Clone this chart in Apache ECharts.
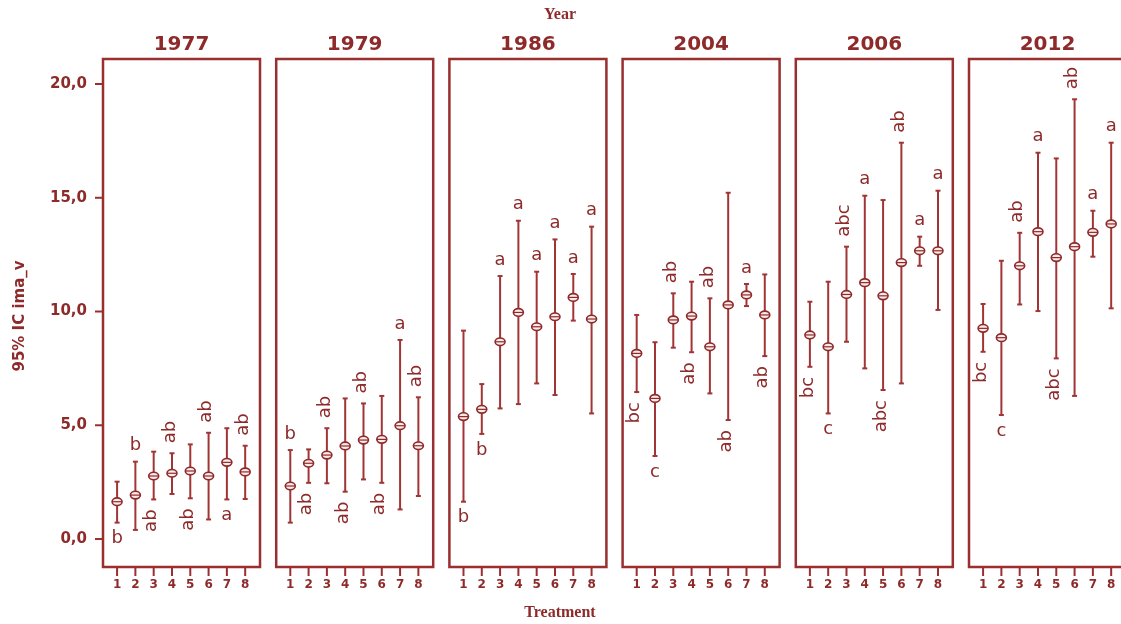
<!DOCTYPE html>
<html>
<head>
<meta charset="utf-8">
<script src="https://cdn.jsdelivr.net/npm/echarts@6/dist/echarts.min.js"></script>
<style>
  html, body { margin: 0; padding: 0; background: #ffffff; }
  #chart { width: 1121px; height: 624px; }
</style>
</head>
<body>
<div id="chart"></div>
<script>
// Years shown as panels, treatments on each panel's x axis
const years = ['1977', '1979', '1986', '2004', '2006', '2012'];
const treatments = [1, 2, 3, 4, 5, 6, 7, 8];
const yTicks = [0, 5, 10, 15, 20];
const yTickLabels = ['0,0', '5,0', '10,0', '15,0', '20,0'];

// Mean of ima_v with its 95% confidence interval, one set per year
const mean1977  = [1.64, 1.93, 2.77, 2.89, 2.99, 2.77, 3.37, 2.95];
const lower1977 = [0.72, 0.40, 1.74, 1.98, 1.79, 0.86, 1.74, 1.76];
const upper1977 = [2.52, 3.40, 3.84, 3.77, 4.16, 4.67, 4.87, 4.10];
const letters1977 = ['b', 'b', 'ab', 'ab', 'ab', 'ab', 'a', 'ab'];
const sides1977 = ['below', 'above', 'below', 'above', 'below', 'above', 'below', 'above'];

const mean1979  = [2.33, 3.33, 3.69, 4.09, 4.35, 4.38, 4.98, 4.10];
const lower1979 = [0.72, 2.47, 2.45, 2.08, 2.62, 2.47, 1.30, 1.89];
const upper1979 = [3.91, 3.94, 4.87, 6.18, 5.96, 6.29, 8.75, 6.23];
const letters1979 = ['b', 'ab', 'ab', 'ab', 'ab', 'ab', 'a', 'ab'];
const sides1979 = ['above', 'below', 'above', 'below', 'above', 'below', 'above', 'above'];

const mean1986  = [5.38, 5.70, 8.67, 9.96, 9.33, 9.77, 10.62, 9.67];
const lower1986 = [1.64, 4.62, 5.74, 5.93, 6.84, 6.33, 9.60, 5.52];
const upper1986 = [9.16, 6.81, 11.56, 13.99, 11.75, 13.17, 11.65, 13.73];
const letters1986 = ['b', 'b', 'a', 'a', 'a', 'a', 'a', 'a'];
const sides1986 = ['below', 'below', 'above', 'above', 'above', 'above', 'above', 'above'];

const mean2004  = [8.16, 6.18, 9.63, 9.80, 8.45, 10.29, 10.73, 9.85];
const lower2004 = [6.46, 3.65, 8.41, 8.21, 6.40, 5.23, 10.24, 8.04];
const upper2004 = [9.85, 8.65, 10.80, 11.31, 10.58, 15.22, 11.21, 11.63];
const letters2004 = ['bc', 'c', 'ab', 'ab', 'ab', 'ab', 'a', 'ab'];
const sides2004 = ['below', 'below', 'above', 'below', 'above', 'below', 'above', 'below'];

const mean2006  = [8.97, 8.45, 10.75, 11.27, 10.69, 12.15, 12.67, 12.67];
const lower2006 = [7.57, 5.52, 8.67, 7.50, 6.55, 6.84, 12.01, 10.07];
const upper2006 = [10.43, 11.31, 12.85, 15.09, 14.90, 17.42, 13.29, 15.31];
const letters2006 = ['bc', 'c', 'abc', 'a', 'abc', 'ab', 'a', 'a'];
const sides2006 = ['below', 'below', 'above', 'above', 'below', 'above', 'above', 'above'];

const mean2012  = [9.26, 8.85, 12.01, 13.51, 12.37, 12.85, 13.48, 13.85];
const lower2012 = [8.23, 5.45, 10.31, 10.02, 7.94, 6.29, 12.41, 10.14];
const upper2012 = [10.33, 12.23, 13.46, 16.98, 16.73, 19.33, 14.43, 17.42];
const letters2012 = ['bc', 'c', 'ab', 'a', 'abc', 'ab', 'a', 'a'];
const sides2012 = ['below', 'below', 'above', 'above', 'below', 'above', 'above', 'above'];

const means   = [mean1977, mean1979, mean1986, mean2004, mean2006, mean2012];
const lowers  = [lower1977, lower1979, lower1986, lower2004, lower2006, lower2012];
const uppers  = [upper1977, upper1979, upper1986, upper2004, upper2006, upper2012];
const letters = [letters1977, letters1979, letters1986, letters2004, letters2006, letters2012];
const sides   = [sides1977, sides1979, sides1986, sides2004, sides2006, sides2012];

const INK = '#8e2a2a';
const LINE = '#a13535';
const FRAME = '#9a2f2f';

const X_MIN = 0.23, X_MAX = 8.81;
const Y_MIN = -1.23, Y_MAX = 21.1;

const panelLeft0 = 103, panelPitch = 173.2, panelWidth = 157;
const panelTop = 59, panelHeight = 508;

function makeRenderer(p) {
  return function (params, api) {
    const x = api.value(0), lo = api.value(1), m = api.value(2), hi = api.value(3);
    const i = api.value(4);
    const pLo = api.coord([x, lo]);
    const pHi = api.coord([x, hi]);
    const pM = api.coord([x, m]);
    const cap = 2.5;
    const children = [
      { type: 'line', shape: { x1: pHi[0], y1: pHi[1], x2: pLo[0], y2: pLo[1] },
        style: { stroke: LINE, lineWidth: 2 } },
      { type: 'line', shape: { x1: pHi[0] - cap, y1: pHi[1], x2: pHi[0] + cap, y2: pHi[1] },
        style: { stroke: LINE, lineWidth: 2 } },
      { type: 'line', shape: { x1: pLo[0] - cap, y1: pLo[1], x2: pLo[0] + cap, y2: pLo[1] },
        style: { stroke: LINE, lineWidth: 2 } },
      { type: 'ellipse', shape: { cx: pM[0], cy: pM[1], rx: 5, ry: 3.8 },
        style: { fill: '#fbeaea', stroke: INK, lineWidth: 1.6 } },
      { type: 'line', shape: { x1: pM[0] - 4.8, y1: pM[1], x2: pM[0] + 4.8, y2: pM[1] },
        style: { stroke: INK, lineWidth: 1.2 } }
    ];

    // tick marks along the frame, placed through the panel's scales
    if (i === 0) {
      treatments.forEach(function (t) {
        const b = api.coord([t, Y_MIN]);
        children.push({ type: 'line', shape: { x1: b[0], y1: b[1], x2: b[0], y2: b[1] + 9 },
                        style: { stroke: FRAME, lineWidth: 2 } });
      });
      if (p === 0) {
        yTicks.forEach(function (v) {
          const c = api.coord([X_MIN, v]);
          children.push({ type: 'line', shape: { x1: c[0] - 8, y1: c[1], x2: c[0], y2: c[1] },
                          style: { stroke: FRAME, lineWidth: 2 } });
        });
      }
    }

    const txt = letters[p][i];
    const above = sides[p][i] === 'above';
    const gap = 10;
    const font = '18px "DejaVu Sans", sans-serif';
    if (txt.length === 1) {
      children.push({
        type: 'text',
        x: pM[0], y: above ? pHi[1] - gap + 3 : pLo[1] + gap - 3,
        style: { text: txt, font: font, fill: INK, align: 'center',
                 verticalAlign: above ? 'bottom' : 'top' }
      });
    } else {
      children.push({
        type: 'text',
        x: pM[0] - 2, y: above ? pHi[1] - gap : pLo[1] + gap,
        rotation: Math.PI / 2,
        style: { text: txt, font: font, fill: INK, align: above ? 'left' : 'right',
                 verticalAlign: 'middle' }
      });
    }
    return { type: 'group', children: children };
  };
}

const grids = [], xAxes = [], yAxes = [], series = [], graphics = [];
years.forEach(function (yr, p) {
  const left = panelLeft0 + p * panelPitch;
  grids.push({
    left: left, top: panelTop, width: panelWidth, height: panelHeight,
    outerBoundsMode: 'none',
    show: true, borderColor: FRAME, borderWidth: 2.5
  });
  xAxes.push({
    type: 'value', gridIndex: p, min: X_MIN, max: X_MAX,
    axisLine: { show: false, onZero: false },
    splitLine: { show: false },
    axisTick: { show: false },
    axisLabel: { customValues: treatments, margin: 12,
                 color: INK, fontWeight: 'bold', fontSize: 12,
                 fontFamily: '"DejaVu Sans", sans-serif',
                 formatter: function (v) { return String(v); } }
  });
  yAxes.push({
    type: 'value', gridIndex: p, min: Y_MIN, max: Y_MAX,
    axisLine: { show: false, onZero: false },
    splitLine: { show: false },
    axisTick: { show: false },
    axisLabel: { show: p === 0, customValues: yTicks, margin: 16,
                 color: INK, fontWeight: 'bold', fontSize: 15,
                 fontFamily: '"DejaVu Sans", sans-serif',
                 formatter: function (v) { return yTickLabels[yTicks.indexOf(v)]; } }
  });
  series.push({
    type: 'custom', xAxisIndex: p, yAxisIndex: p,
    renderItem: makeRenderer(p),
    clip: false,
    silent: true,
    data: treatments.map(function (t, i) {
      return [t, lowers[p][i], means[p][i], uppers[p][i], i];
    })
  });
  graphics.push({
    type: 'text',
    x: left + panelWidth / 2, y: 45,
    style: { text: yr, font: 'bold 20px "DejaVu Sans", sans-serif', fill: INK,
             align: 'center', verticalAlign: 'middle' }
  });
});

graphics.push({
  type: 'text', x: 560, y: 15,
  style: { text: 'Year', font: 'bold 16px "Liberation Serif", serif', fill: INK,
           align: 'center', verticalAlign: 'middle' }
});
graphics.push({
  type: 'text', x: 560, y: 613,
  style: { text: 'Treatment', font: 'bold 16px "Liberation Serif", serif', fill: INK,
           align: 'center', verticalAlign: 'middle' }
});
graphics.push({
  type: 'text', x: 20, y: 316, rotation: Math.PI / 2,
  style: { text: '95% IC ima_v', font: 'bold 15px "DejaVu Sans", sans-serif', fill: INK,
           align: 'center', verticalAlign: 'middle' }
});

const chart = echarts.init(document.getElementById('chart'));
chart.setOption({
  animation: false,
  grid: grids,
  xAxis: xAxes,
  yAxis: yAxes,
  series: series,
  graphic: graphics
});
</script>
</body>
</html>
